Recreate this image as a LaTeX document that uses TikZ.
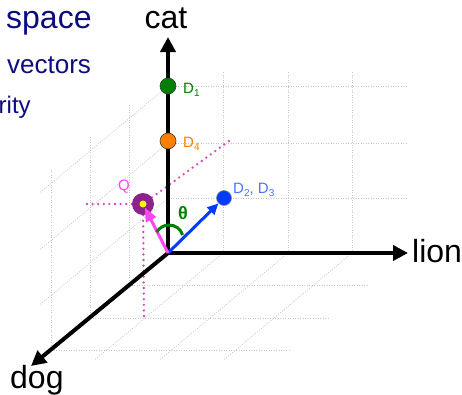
\documentclass[tikz,border=0pt]{standalone}
\usepackage{fontspec}
\setmainfont{Liberation Sans}
\usetikzlibrary{arrows.meta}
\definecolor{navytxt}{RGB}{12,12,128}
\definecolor{dgreen}{RGB}{0,128,0}
\definecolor{dorange}{RGB}{255,128,0}
\definecolor{dblue}{RGB}{0,60,255}
\definecolor{lblue}{RGB}{70,115,255}
\definecolor{qmag}{RGB}{255,70,240}
\definecolor{dotmag}{RGB}{220,70,190}
\definecolor{qpurple}{RGB}{140,35,140}
\definecolor{gridc}{RGB}{200,200,200}
\newcommand\mysub[1]{\raisebox{-3.5pt}{\fontsize{10}{12}\selectfont #1}}
\begin{document}
\begin{tikzpicture}[x=1pt,y=-1pt,
  gridl/.style={draw=gridc,line width=0.8pt,dash pattern=on 1pt off 1.5pt},
  axis/.style={line width=4pt,-{Triangle[length=15pt,width=15pt]}},
  dotl/.style={draw=dotmag,line width=2.6pt,dash pattern=on 0pt off 5.6pt,line cap=round},
  dot/.style={circle,minimum size=16pt,inner sep=0pt,draw=black!75,line width=0.6pt},
  lab/.style={inner sep=0pt,anchor=base west,font=\fontsize{15}{18}\selectfont},
  big/.style={inner sep=0pt,font=\fontsize{32}{38}\selectfont},
  vecarrow/.style={line width=3pt,-{Triangle[length=11pt,width=10pt]}}]
\useasboundingbox (0,0) rectangle (462,394);
% grid: back plane
\foreach \yy in {198,143,86} \draw[gridl] (168,\yy) -- (407,\yy);
\foreach \xx in {223,288,352} \draw[gridl] (\xx,253) -- (\xx,72);
% left plane
\foreach \k in {1,2,3} \draw[gridl] ({168-39*\k},{253+32.5*\k}) -- ++(0,-181);
\foreach \yy in {198,143,86} \draw[gridl] (168,\yy) -- ++(-128.7,107.2);
% floor
\foreach \xx in {223,288,352} \draw[gridl] (\xx,253) -- ++(-128.7,107.2);
\foreach \k in {1,2,3} \draw[gridl] ({168-39*\k},{253+32.5*\k}) -- ++(239,0);
% coordinates
\coordinate (O) at (168,253);
\coordinate (catT) at (168,37);
\coordinate (lionT) at (408,253);
\coordinate (dogT) at (31,366);
\coordinate (Qp) at (143,204);
\coordinate (qh) at (84,204);
\coordinate (qv) at (144,317);
\coordinate (qd) at (229,141);
% dotted projections
\draw[dotl] (Qp) -- (qh);
\draw[dotl] (Qp) -- (qv);
\draw[dotl] (Qp) -- (qd);
% axes
\draw[axis,{Triangle[length=15pt,width=15pt]}-{Triangle[length=15pt,width=15pt]},line join=miter] (catT) -- (O) -- (lionT);
\draw[axis,line cap=round] (O) -- (dogT);
% points
\node[dot,fill=dgreen] (D1) at (168,86) {};
\node[dot,fill=dorange] (D4) at (168,141) {};
\node[dot,fill=dblue,draw=black!45,minimum size=15pt] (D2) at (224,198) {};
\node[circle,fill=qpurple,minimum size=22pt,inner sep=0pt] (Qr) at (Qp) {};
\node[circle,fill=yellow,minimum size=7pt,inner sep=0pt] (Qc) at (Qp) {};
% vectors
\draw[vecarrow,draw=dblue,fill=dblue] (O) -- (D2);
\draw[vecarrow,draw=qmag,fill=qmag,-{Triangle[length=14pt,width=11pt]}] (O) -- (Qc);
% angle
\draw[dgreen,line width=3pt] (156.6,232.2) .. controls (159.2,227.8) and (163.9,225) .. (169,225)
  .. controls (175.2,225) and (180.7,229) .. (182.6,234.9);
\node[inner sep=0pt,text=dgreen,font=\fontsize{18}{20}\selectfont\bfseries] (th) at (183,213.5) {θ};
% labels
\node[lab,text=dgreen] (D1l) at (183,93) {D\mysub{1}};
\node[lab,text=dorange] (D4l) at (183,147) {D\mysub{4}};
\node[lab,text=lblue] (D2l) at (233,193) {D\mysub{2}, D\mysub{3}};
\node[inner sep=0pt,text=qmag,font=\fontsize{15}{18}\selectfont] (Ql) at (124,187) {Q};
\node[big,anchor=base] (cat) at (166,28) {cat};
\node[big,anchor=base west] (lion) at (412,262) {lion};
\node[big,anchor=base west] (dog) at (10,388) {dog};
% slide text fragments
\node[inner sep=0pt,anchor=base west,text=navytxt,font=\fontsize{32}{38}\selectfont] (t1) at (6,28) {space};
\node[inner sep=0pt,anchor=base west,text=navytxt,font=\fontsize{26}{30}\selectfont] (t2) at (7,73) {vectors};
\node[inner sep=0pt,anchor=base west,text=navytxt,font=\fontsize{24}{28}\selectfont] (t3) at (-1.5,113) {rity};
\end{tikzpicture}
\end{document}
